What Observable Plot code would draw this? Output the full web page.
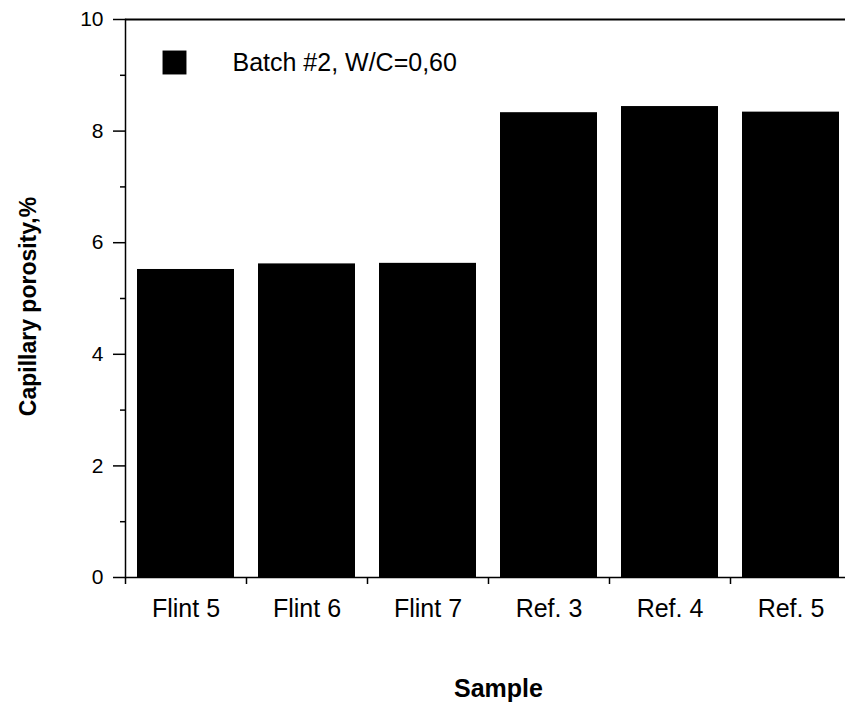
<!DOCTYPE html>
<html><head><meta charset="utf-8">
<script src="https://cdn.jsdelivr.net/npm/d3@7"></script>
<script src="https://cdn.jsdelivr.net/npm/@observablehq/plot@0.6"></script>
<style>
body{margin:0;background:#fff;}
#chart svg{font-family:"Liberation Sans",Arial,Helvetica,sans-serif;}
</style>
</head><body><div id="chart"></div>
<script>
const samples = ["Flint 5","Flint 6","Flint 7","Ref. 3","Ref. 4","Ref. 5"];
const porosity = [5.52, 5.62, 5.63, 8.33, 8.44, 8.34];
const majorTicks = [0, 2, 4, 6, 8, 10];
const minorTicks = [1, 3, 5, 7, 9];
const legendLabel = "Batch #2, W/C=0,60";
const yLabel = "Capillary porosity,%";
const xLabel = "Sample";

const data = samples.map((s, i) => ({sample: s, value: porosity[i]}));

const W = 845, H = 703, mL = 125, mT = 19, mB = 126, step = 121;

const chart = Plot.plot({
  width: W, height: H,
  marginLeft: mL, marginRight: 0, marginTop: mT, marginBottom: mB,
  style: {fontFamily: '"Liberation Sans", Arial, Helvetica, sans-serif', background: "#fff", color: "#000", overflow: "visible"},
  x: {domain: samples, range: [mL, mL + step * samples.length], paddingInner: 0.2, paddingOuter: 0.1, align: 0.5},
  y: {domain: [0, 10]},
  marks: [
    Plot.barY(data, {x: "sample", y: "value", fill: "#000"}),
    Plot.ruleY([10], {stroke: "#000", strokeWidth: 2}),
    Plot.ruleY([0], {stroke: "#000", strokeWidth: 1.5}),
    Plot.frame({anchor: "left", stroke: "#000", strokeWidth: 1.5}),
    Plot.axisY(majorTicks, {tickSize: 12, tickPadding: 10, fontSize: 21, label: null, strokeWidth: 1.5, tickFormat: d3.format("d")}),
    Plot.axisY(minorTicks, {tickSize: 5, tickFormat: () => "", label: null, strokeWidth: 1.5}),
    Plot.axisX(samples, {tickSize: 7, dx: -step / 2, tickFormat: () => "", label: null, strokeWidth: 1.5}),
    Plot.axisX(samples, {tickSize: 0, tickPadding: 22, fontSize: 25, label: null}),
    Plot.text([yLabel], {frameAnchor: "left", textAnchor: "middle", lineAnchor: "middle", rotate: -90, dx: -97, dy: 8, fontWeight: "bold", fontSize: 23}),
    Plot.text([xLabel], {frameAnchor: "bottom", textAnchor: "middle", lineAnchor: "middle", dx: 13, dy: 111, fontWeight: "bold", fontSize: 25}),
    Plot.dot([legendLabel], {frameAnchor: "top-left", dx: 49, dy: 43, symbol: "square", r: 13.5, fill: "#000", stroke: "none"}),
    Plot.text([legendLabel], {frameAnchor: "top-left", dx: 107, dy: 43, textAnchor: "start", lineAnchor: "middle", fontSize: 25})
  ]
});
document.getElementById("chart").appendChild(chart);
</script>
</body></html>
